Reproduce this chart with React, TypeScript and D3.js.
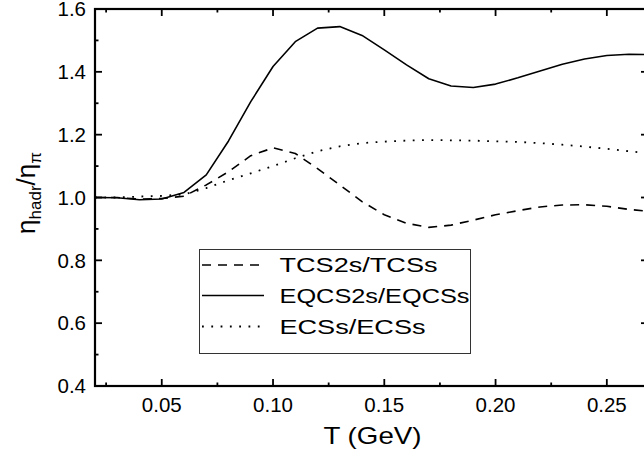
import React from "react";
import * as d3 from "d3";

const temps = [0.02,0.03,0.04,0.05,0.06,0.07,0.08,0.09,0.10,0.11,0.12,0.13,0.14,0.15,0.16,0.17,0.18,0.19,0.20,0.21,0.22,0.23,0.24,0.25,0.26,0.27];
const tcs = [1.0,1.0,0.995,0.997,1.004,1.04,1.082,1.133,1.158,1.14,1.092,1.04,0.987,0.945,0.918,0.905,0.912,0.928,0.945,0.958,0.970,0.976,0.977,0.972,0.962,0.955];
const eqcs = [1.0,0.999,0.993,0.995,1.016,1.072,1.18,1.305,1.417,1.496,1.539,1.544,1.516,1.47,1.422,1.378,1.355,1.35,1.361,1.381,1.403,1.424,1.441,1.452,1.456,1.455];
const ecs = [1.0,1.0,1.003,1.005,1.01,1.03,1.055,1.077,1.10,1.125,1.147,1.163,1.173,1.178,1.181,1.183,1.182,1.181,1.179,1.177,1.173,1.168,1.162,1.155,1.147,1.14];

const seriesNames = ["TCS2s/TCSs", "EQCS2s/EQCSs", "ECSs/ECSs"];
const xMajor = [0.05, 0.10, 0.15, 0.20, 0.25];
const xMinor = [0.025, 0.075, 0.125, 0.175, 0.225];
const yMajor = [0.4, 0.6, 0.8, 1.0, 1.2, 1.4, 1.6];
const yMinor = [0.5, 0.7, 0.9, 1.1, 1.3, 1.5];

const W = 644, H = 455;
const L = 95, R = 648, T = 9, B = 386;

export default function App() {
  const x = d3.scaleLinear().domain([0.02, 0.2685]).range([L, R]);
  const y = d3.scaleLinear().domain([0.4, 1.6]).range([B, T]);
  const line = d3.line<number>().x((_, i) => x(temps[i])).y((d) => y(d));
  const series = [
    { name: seriesNames[0], values: tcs, dash: "9,7", width: 1.6, len: 158 },
    { name: seriesNames[1], values: eqcs, dash: "", width: 1.6, len: 190 },
    { name: seriesNames[2], values: ecs, dash: "1.8,7.5", width: 1.8, len: 146 },
  ];
  const font = "Liberation Sans, Arial, sans-serif";
  const legendRows = [265, 295.5, 326.5];
  return (
    <svg width={W} height={H} style={{ position: "absolute", left: 0, top: 0, background: "#fff" }} fontFamily={font}>
      <defs>
        <clipPath id="plot">
          <rect x={L} y={T} width={R - L} height={B - T} />
        </clipPath>
      </defs>
      <rect x={0} y={0} width={W} height={H} fill="#fff" />
      <g clipPath="url(#plot)">
        {series.map((s) => (
          <path key={s.name} d={line(s.values) || ""} fill="none" stroke="#000" strokeWidth={s.width} strokeDasharray={s.dash || undefined} strokeLinejoin="round" />
        ))}
      </g>
      <g stroke="#000" strokeWidth={1.8}>
        {xMajor.map((v) => (
          <g key={"xM" + v}>
            <line x1={x(v)} x2={x(v)} y1={B} y2={B - 7} />
            <line x1={x(v)} x2={x(v)} y1={T} y2={T + 7} />
          </g>
        ))}
        {xMinor.map((v) => (
          <g key={"xm" + v}>
            <line x1={x(v)} x2={x(v)} y1={B} y2={B - 3.5} />
            <line x1={x(v)} x2={x(v)} y1={T} y2={T + 3.5} />
          </g>
        ))}
        {yMajor.map((v) => (
          <g key={"yM" + v}>
            <line x1={L} x2={L + 7} y1={y(v)} y2={y(v)} />
            <line x1={R} x2={R - 7} y1={y(v)} y2={y(v)} />
          </g>
        ))}
        {yMinor.map((v) => (
          <g key={"ym" + v}>
            <line x1={L} x2={L + 3.5} y1={y(v)} y2={y(v)} />
            <line x1={R} x2={R - 3.5} y1={y(v)} y2={y(v)} />
          </g>
        ))}
      </g>
      <rect x={L} y={T} width={R - L} height={B - T} fill="none" stroke="#000" strokeWidth={2.2} />
      {xMajor.map((v) => (
        <text key={"xl" + v} x={x(v)} y={411.5} fontSize={20.5} textAnchor="middle" fill="#000">{d3.format(".2f")(v)}</text>
      ))}
      {yMajor.map((v) => (
        <text key={"yl" + v} x={86} y={y(v) + 7.3} fontSize={20.5} textAnchor="end" fill="#000">{d3.format(".1f")(v)}</text>
      ))}
      <text x={372.5} y={443.5} fontSize={24.5} textAnchor="middle" fill="#000" textLength={98} lengthAdjust="spacingAndGlyphs">T (GeV)</text>
      <text transform="translate(35,193) rotate(-90)" textAnchor="middle" fill="#000" fontSize={26}>
        η<tspan fontSize={17} dy={6}>hadr</tspan><tspan dy={-6}>/η</tspan><tspan fontSize={17} dy={6}>π</tspan>
      </text>
      <rect x={199.5} y={249.5} width={271} height={104} fill="#fff" stroke="#333" strokeWidth={1} />
      {series.map((s, i) => (
        <g key={"lg" + s.name}>
          <line x1={202} x2={264} y1={legendRows[i]} y2={legendRows[i]} stroke="#000" strokeWidth={s.width} strokeDasharray={s.dash || undefined} />
          <text x={279.5} y={legendRows[i] + 7} fontSize={21} fill="#000" textLength={s.len} lengthAdjust="spacingAndGlyphs">{s.name}</text>
        </g>
      ))}
    </svg>
  );
}
